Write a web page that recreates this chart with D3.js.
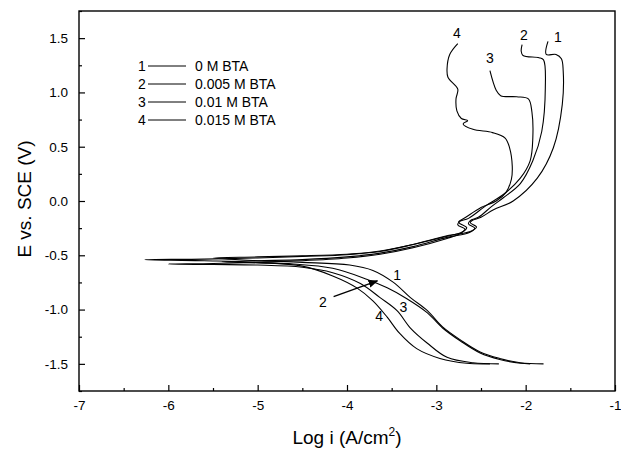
<!DOCTYPE html>
<html><head><meta charset="utf-8">
<script src="https://cdn.jsdelivr.net/npm/d3@7"></script>
<style>body{margin:0;background:#fff}svg{display:block}text{font-family:"Liberation Sans",Arial,sans-serif;fill:#000}</style>
</head><body><svg id="c" width="621" height="456"></svg>
<script>
// ---- data ----
const seriesNames = ["1","2","3","4"];
const legendLabels = ["0 M BTA","0.005 M BTA","0.01 M BTA","0.015 M BTA"];
const xTicks = [-7,-6,-5,-4,-3,-2,-1];
const yTicks = [-1.5,-1.0,-0.5,0.0,0.5,1.0,1.5];
const curve1 = [[-1.80,-1.50],[-2.06,-1.49],[-2.29,-1.45],[-2.51,-1.39],[-2.73,-1.28],[-2.93,-1.16],[-3.10,-1.01],[-3.29,-0.89],[-3.48,-0.75],[-3.71,-0.64],[-3.97,-0.59],[-4.5,-0.565],[-5.0,-0.55],[-5.5,-0.525],
  [-5.0,-0.515],[-4.5,-0.505],[-4.0,-0.49],[-3.63,-0.465],[-3.26,-0.40],[-2.88,-0.32],[-2.62,-0.28],[-2.55,-0.24],[-2.62,-0.20],[-2.60,-0.18],[-2.50,-0.15],[-2.36,-0.08],[-2.14,0.0],[-1.87,0.21],[-1.69,0.49],[-1.59,0.89],[-1.58,1.20],[-1.60,1.31],[-1.66,1.35],[-1.77,1.35],[-1.75,1.47]];
const curve2 = [[-1.95,-1.50],[-2.06,-1.495],[-2.29,-1.46],[-2.51,-1.40],[-2.73,-1.29],[-2.93,-1.17],[-3.10,-1.03],[-3.33,-0.90],[-3.55,-0.80],[-3.78,-0.72],[-4.16,-0.62],[-4.6,-0.58],[-5.0,-0.57],[-5.4,-0.56],
  [-5.0,-0.55],[-4.5,-0.54],[-4.0,-0.515],[-3.63,-0.48],[-3.26,-0.42],[-2.88,-0.335],[-2.63,-0.29],[-2.57,-0.25],[-2.64,-0.21],[-2.62,-0.18],[-2.53,-0.15],[-2.38,-0.05],[-2.25,0.03],[-2.06,0.16],[-1.92,0.37],[-1.82,0.64],[-1.78,1.04],[-1.80,1.30],[-1.85,1.32],[-2.03,1.34],[-2.05,1.38],[-2.04,1.44]];
const curve3 = [[-2.30,-1.50],[-2.59,-1.49],[-2.88,-1.44],[-3.10,-1.31],[-3.29,-1.17],[-3.44,-1.01],[-3.63,-0.89],[-3.85,-0.76],[-4.16,-0.66],[-4.5,-0.61],[-5.0,-0.59],[-5.5,-0.585],[-6.0,-0.58],
  [-5.5,-0.575],[-5.0,-0.565],[-4.5,-0.55],[-4.0,-0.525],[-3.63,-0.49],[-3.26,-0.43],[-2.88,-0.345],[-2.73,-0.30],[-2.68,-0.26],[-2.76,-0.22],[-2.74,-0.19],[-2.64,-0.16],[-2.44,-0.04],[-2.25,0.06],[-2.06,0.21],[-1.95,0.37],[-1.92,0.58],[-1.93,0.82],[-1.97,0.94],[-2.10,0.96],[-2.28,0.97],[-2.33,1.02],[-2.40,1.20]];
const curve4 = [[-2.40,-1.50],[-2.66,-1.495],[-2.96,-1.45],[-3.22,-1.36],[-3.41,-1.22],[-3.55,-1.07],[-3.71,-0.92],[-3.89,-0.80],[-4.16,-0.69],[-4.5,-0.60],[-5.0,-0.565],[-5.6,-0.55],[-6.26,-0.54],
  [-5.6,-0.535],[-5.0,-0.525],[-4.5,-0.51],[-4.0,-0.495],[-3.63,-0.46],[-3.26,-0.40],[-2.88,-0.325],[-2.71,-0.285],[-2.66,-0.245],[-2.74,-0.205],[-2.75,-0.19],[-2.68,-0.155],[-2.50,-0.06],[-2.33,0.0],[-2.22,0.08],[-2.16,0.20],[-2.15,0.32],[-2.18,0.49],[-2.23,0.58],[-2.37,0.63],[-2.59,0.66],[-2.70,0.71],[-2.65,0.74],[-2.72,0.76],[-2.77,0.83],[-2.78,0.94],[-2.76,1.03],[-2.87,1.14],[-2.88,1.22],[-2.85,1.35],[-2.76,1.45]];
const curves = [curve1, curve2, curve3, curve4];
// curve number labels [logi, E]
const topLabels = [[-1.64,1.51],[-2.02,1.53],[-2.40,1.32],[-2.77,1.55]];
const lowLabels = [[-3.44,-0.68],[-4.27,-0.93],[-3.37,-0.98],[-3.64,-1.06]];
const arrow2 = [[-4.15,-0.88],[-3.66,-0.735]];

// ---- layout ----
const svg = d3.select("#c");
const L = 79, R = 615, T = 11, B = 391;
const x = d3.scaleLinear().domain([-7,-1]).range([L,R]);
const y = d3.scaleLinear().domain([-1.75,1.75]).range([B,T]);
const hy = f => d => f(d).replace("\u2212","-");

// axes
const xMinor = d3.range(-6.5,-1,1);
const yMinor = d3.range(-1.75,1.8,0.5);
svg.append("g").attr("transform",`translate(0,${B})`)
  .call(d3.axisBottom(x).tickValues(xTicks).tickFormat(hy(d3.format("d"))).tickSizeInner(-6).tickSizeOuter(0).tickPadding(9));
svg.append("g").attr("transform",`translate(0,${B})`)
  .call(d3.axisBottom(x).tickValues(xMinor).tickFormat("").tickSizeInner(-3).tickSizeOuter(0));
svg.append("g").attr("transform",`translate(${L},0)`)
  .call(d3.axisLeft(y).tickValues(yTicks).tickFormat(hy(d3.format(".1f"))).tickSizeInner(-6).tickSizeOuter(0).tickPadding(11));
svg.append("g").attr("transform",`translate(${L},0)`)
  .call(d3.axisLeft(y).tickValues(yMinor).tickFormat("").tickSizeInner(-3).tickSizeOuter(0));
svg.selectAll(".domain").remove();
svg.selectAll(".tick line").attr("stroke","#000").attr("stroke-width",1.2);
svg.selectAll(".tick text").attr("font-size",13.5).attr("fill","#000").attr("font-family","'Liberation Sans',Arial,sans-serif");
svg.append("rect").attr("x",L).attr("y",T).attr("width",R-L).attr("height",B-T)
  .attr("fill","none").attr("stroke","#000").attr("stroke-width",1.4);

// titles
const xt = svg.append("text").attr("x",(L+R)/2).attr("y",444).attr("text-anchor","middle").attr("font-size",19);
xt.append("tspan").text("Log i (A/cm");
xt.append("tspan").attr("font-size",12).attr("dy",-8).text("2");
xt.append("tspan").attr("dy",8).text(")");
svg.append("text").attr("transform",`translate(31,${(T+B)/2 - 2}) rotate(-90)`).attr("text-anchor","middle").attr("font-size",19).text("E vs. SCE (V)");

// curves
const line = d3.line().x(d=>x(d[0])).y(d=>y(d[1])).curve(d3.curveCatmullRom.alpha(0.5));
svg.append("g").selectAll("path").data(curves).join("path")
  .attr("d",line).attr("fill","none").attr("stroke","#000").attr("stroke-width",1.1);

// labels
svg.append("g").selectAll("text").data(topLabels.concat(lowLabels)).join("text")
  .attr("x",d=>x(d[0])).attr("y",d=>y(d[1])+5).attr("text-anchor","middle").attr("font-size",14).attr("fill","#000")
  .text((d,i)=>seriesNames[i%4]);

// arrow for label 2
svg.append("defs").append("marker").attr("id","ah").attr("viewBox","0 0 10 10").attr("refX",9).attr("refY",5)
  .attr("markerWidth",7).attr("markerHeight",7).attr("orient","auto")
  .append("path").attr("d","M0,1 L10,5 L0,9 Z").attr("fill","#000");
svg.append("line").attr("x1",x(arrow2[0][0])).attr("y1",y(arrow2[0][1])).attr("x2",x(arrow2[1][0])).attr("y2",y(arrow2[1][1]))
  .attr("stroke","#000").attr("stroke-width",1.4).attr("marker-end","url(#ah)");

// legend
const lg = svg.append("g");
legendLabels.forEach((t,i)=>{
  const yy = 66 + i*18;
  lg.append("text").attr("x",142).attr("y",yy+5).attr("text-anchor","middle").attr("font-size",14).text(seriesNames[i]);
  lg.append("line").attr("x1",148).attr("x2",186).attr("y1",yy).attr("y2",yy).attr("stroke","#000").attr("stroke-width",1);
  lg.append("text").attr("x",195).attr("y",yy+5).attr("font-size",14).text(t);
});
</script></body></html>
